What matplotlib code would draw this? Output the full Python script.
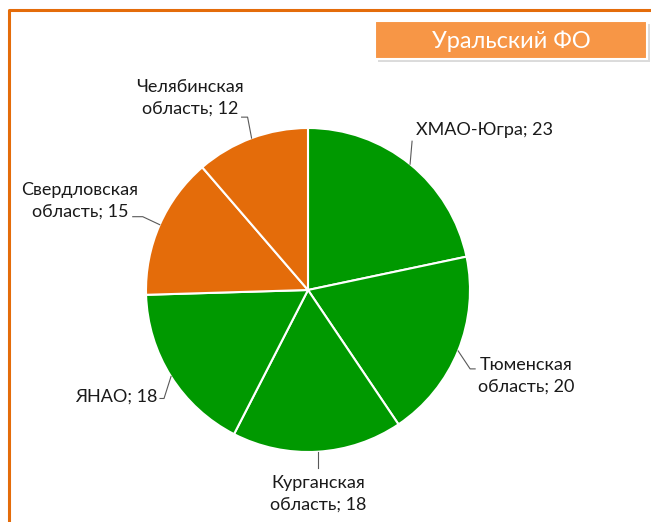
import matplotlib.pyplot as plt
from matplotlib.patches import Rectangle, FancyBboxPatch
import numpy as np

# data
regions = ["ХМАО-Югра", "Тюменская\nобласть", "Курганская\nобласть",
           "ЯНАО", "Свердловская\nобласть", "Челябинская\nобласть"]
values = [23, 20, 18, 18, 15, 12]
colors = ["#009900", "#009900", "#009900", "#009900", "#E46C0A", "#E46C0A"]
title = "Уральский ФО"

W, H = 651, 522
plt.rcParams['font.family'] = ['Lato', 'DejaVu Sans']

fig = plt.figure(figsize=(W / 100, H / 100), dpi=100)
ax = fig.add_axes([0, 0, 1, 1])
ax.set_xlim(0, W)
ax.set_ylim(H, 0)
ax.axis('off')

# outer orange frame (only left and top visible)
ax.plot([9, 9, W + 5], [H + 5, 10, 10], color="#E46C0A", lw=2.2, solid_capstyle='butt')

# pie (y axis inverted -> counterclock=True draws clockwise on screen)
cx, cy, r = 308, 290, 162
wedges, _ = ax.pie(values, colors=colors, startangle=-90, counterclock=True,
                   center=(cx, cy), radius=r, frame=True,
                   wedgeprops=dict(edgecolor='white', linewidth=1.5))
ax.set_xlim(0, W)
ax.set_ylim(H, 0)
ax.set_aspect('auto')
ax.axis('off')

# label layout: (elbow offset, text position, alignment)
layout = [
    dict(path=[(2, -23)], text=(416, 130), ha='left', va='center'),
    dict(path=[(12, 18), (17, 18)], text=(478, 376), ha='left', va='center'),
    dict(path=[(0, 16)], text=(318, 494), ha='center', va='center'),
    dict(path=[(-7, 22), (-11, 22)], text=(157, 397), ha='right', va='center'),
    dict(path=[(-17, -8), (-27, -8)], text=(80, 201), ha='center', va='center'),
    dict(path=[(-4, -21), (-10, -21)], text=(190, 98), ha='center', va='center'),
]

total = sum(values)
cum = 0
for name, v, lay in zip(regions, values, layout):
    mid = 90 - (cum + v / 2) / total * 360
    cum += v
    ex = cx + r * np.cos(np.radians(mid))
    ey = cy - r * np.sin(np.radians(mid))
    xs = [ex] + [ex + dx for dx, dy in lay['path']]
    ys = [ey] + [ey + dy for dx, dy in lay['path']]
    ax.plot(xs, ys, color='#595959', lw=0.8)
    ax.text(lay['text'][0], lay['text'][1], f"{name}; {v}", ha=lay['ha'], va=lay['va'],
            fontsize=13, color='#1a1a1a', linespacing=1.45, multialignment='center')

# title box with shadow
ax.add_patch(Rectangle((378, 24), 272, 38, facecolor='#9a9a9a', alpha=0.35, edgecolor='none'))
ax.add_patch(Rectangle((375, 21), 272, 38, facecolor='#F79646', edgecolor='white', lw=1.5))
ax.text(511, 41, title, ha='center', va='center', fontsize=17, color='white')

fig.savefig("out.png", dpi=100)
